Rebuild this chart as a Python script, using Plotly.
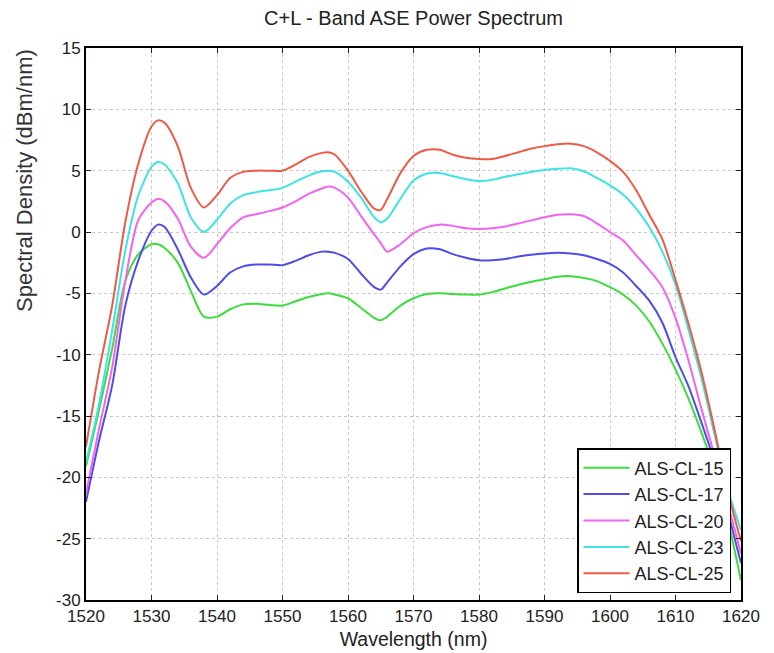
import plotly.graph_objects as go

wavelength = [1520, 1522, 1524, 1526, 1528, 1530, 1531, 1532, 1534, 1536, 1538, 1540, 1542, 1544,
              1546, 1548, 1550, 1552, 1554, 1556, 1557, 1558, 1560, 1562, 1564, 1565, 1566, 1568,
              1570, 1572, 1574, 1576, 1578, 1580, 1582, 1584, 1586, 1588, 1590, 1592, 1594, 1596,
              1598, 1600, 1602, 1604, 1606, 1608, 1610, 1612, 1614, 1616, 1618, 1620]

als_cl_15 = [-19.1, -14.5, -9.5, -4.0, -1.8, -1.0, -1.0, -1.3, -2.5, -4.8, -6.9, -6.9, -6.3, -5.9,
             -5.85, -5.95, -6.0, -5.65, -5.3, -5.05, -5.0, -5.1, -5.4, -6.2, -7.0, -7.2, -6.9, -6.0,
             -5.4, -5.05, -5.0, -5.05, -5.1, -5.1, -4.9, -4.6, -4.3, -4.05, -3.85, -3.65, -3.6, -3.75,
             -4.0, -4.5, -5.1, -6.0, -7.3, -9.1, -11.2, -13.6, -16.4, -19.5, -23.5, -28.4]

als_cl_17 = [-22.0, -17.0, -12.5, -6.0, -2.3, 0.1, 0.6, 0.4, -1.4, -3.7, -5.1, -4.4, -3.3, -2.8,
             -2.65, -2.65, -2.7, -2.35, -1.9, -1.6, -1.6, -1.7, -2.2, -3.4, -4.5, -4.7, -4.1, -2.8,
             -1.8, -1.35, -1.4, -1.8, -2.1, -2.3, -2.3, -2.2, -2.0, -1.85, -1.75, -1.7, -1.75, -1.9,
             -2.2, -2.6, -3.3, -4.4, -5.6, -7.4, -10.2, -12.6, -15.6, -18.8, -22.8, -27.0]

als_cl_20 = [-21.3, -16.0, -11.0, -4.0, 1.0, 2.4, 2.7, 2.5, 1.1, -1.2, -2.1, -1.0, 0.3, 1.2,
             1.45, 1.7, 2.0, 2.5, 3.1, 3.55, 3.7, 3.6, 2.8, 1.3, -0.2, -0.9, -1.6, -1.0,
             -0.1, 0.4, 0.6, 0.5, 0.3, 0.25, 0.3, 0.45, 0.7, 0.95, 1.2, 1.4, 1.45, 1.3,
             0.7, 0.0, -0.7, -1.9, -3.1, -4.5, -7.0, -10.5, -14.5, -18.3, -22.2, -26.2]

als_cl_23 = [-18.8, -14.0, -8.0, -1.5, 3.0, 5.3, 5.7, 5.5, 4.0, 1.2, 0.0, 1.0, 2.3, 3.0,
             3.25, 3.4, 3.6, 4.1, 4.6, 4.95, 5.0, 4.9, 4.1, 2.8, 1.2, 0.8, 1.1, 2.7,
             4.2, 4.75, 4.8, 4.55, 4.3, 4.15, 4.25, 4.5, 4.7, 4.9, 5.05, 5.15, 5.2, 4.95,
             4.4, 3.8, 3.05, 1.9, 0.4, -1.6, -4.3, -8.0, -12.0, -16.6, -21.0, -24.3]

als_cl_25 = [-17.5, -11.3, -6.0, 0.8, 5.6, 8.6, 9.1, 8.9, 7.0, 3.6, 2.0, 3.0, 4.4, 4.9,
             5.0, 5.0, 5.0, 5.5, 6.1, 6.45, 6.5, 6.3, 5.0, 3.3, 1.9, 1.8, 2.7, 4.8,
             6.2, 6.7, 6.7, 6.3, 6.05, 5.95, 5.95, 6.2, 6.5, 6.8, 7.0, 7.15, 7.2, 7.0,
             6.5, 5.8, 4.9, 3.4, 1.4, -0.6, -3.9, -7.5, -11.5, -16.2, -21.2, -25.2]

series_names = ["ALS-CL-15", "ALS-CL-17", "ALS-CL-20", "ALS-CL-23", "ALS-CL-25"]
series_values = [als_cl_15, als_cl_17, als_cl_20, als_cl_23, als_cl_25]
series_colors = ["#3ddc3d", "#4d4de6", "#f064f0", "#3fe3e3", "#ef5a45"]

x_ticks = [1520, 1530, 1540, 1550, 1560, 1570, 1580, 1590, 1600, 1610, 1620]
x_tick_labels = ["1520", "1530", "1540", "1550", "1560", "1570", "1580", "1590", "1600", "1610", "1620"]
y_ticks = [15, 10, 5, 0, -5, -10, -15, -20, -25, -30]
y_tick_labels = ["15", "10", "5", "0", "-5", "-10", "-15", "-20", "-25", "-30"]

FONT = "Liberation Sans, Arial, Helvetica, sans-serif"

# the page body has an 8px margin; figure sized so it fills the 774x653 window
W, H = 766, 645
L, T = 78, 40
R = W - 733
B = H - 592

fig = go.Figure()
for name, vals, col in zip(series_names, series_values, series_colors):
    fig.add_trace(go.Scatter(
        x=wavelength, y=vals, mode="lines", name=name, legendgroup=name,
        line=dict(color=col, width=2, shape="spline", smoothing=0.8),
    ))

axis_common = dict(
    showgrid=True, gridcolor="#c8c8c8", griddash="dot", gridwidth=1,
    showline=True, linecolor="black", linewidth=2, mirror="ticks",
    ticks="inside", ticklen=5, tickcolor="#222", tickwidth=1,
    tickfont=dict(family=FONT, size=17, color="#222"), zeroline=False,
    automargin=False,
)

fig.update_layout(
    width=W, height=H,
    margin=dict(l=L, r=R, t=T, b=B, autoexpand=False),
    paper_bgcolor="white", plot_bgcolor="white",
    title=dict(text="C+L - Band ASE Power Spectrum", x=0.5, xref="paper",
               y=1 - 10 / H, yanchor="middle", yref="container",
               font=dict(family=FONT, size=20, color="#222")),
    xaxis=dict(range=[1520, 1620], tickvals=x_ticks, ticktext=x_tick_labels, **axis_common,
               title=dict(text="Wavelength (nm)", standoff=7,
                          font=dict(family=FONT, size=19.5, color="#222"))),
    yaxis=dict(range=[-30, 15], tickvals=y_ticks, ticktext=y_tick_labels, **axis_common),
    legend=dict(x=(731 - 86) / 655, y=(600 - 593) / 552, xanchor="right", yanchor="bottom",
                bgcolor="white", bordercolor="black", borderwidth=1.5,
                font=dict(family=FONT, size=18, color="#222"),
                itemwidth=46, tracegroupgap=0),
    showlegend=True,
)

fig.add_annotation(
    text="Spectral Density (dBm/nm)", textangle=-90,
    xref="paper", yref="paper", x=(25 - 86) / 655, y=(600 - 181) / 552,
    xanchor="center", yanchor="middle", showarrow=False,
    font=dict(family=FONT, size=22, color="#333"),
)

fig.write_html("out.html")
